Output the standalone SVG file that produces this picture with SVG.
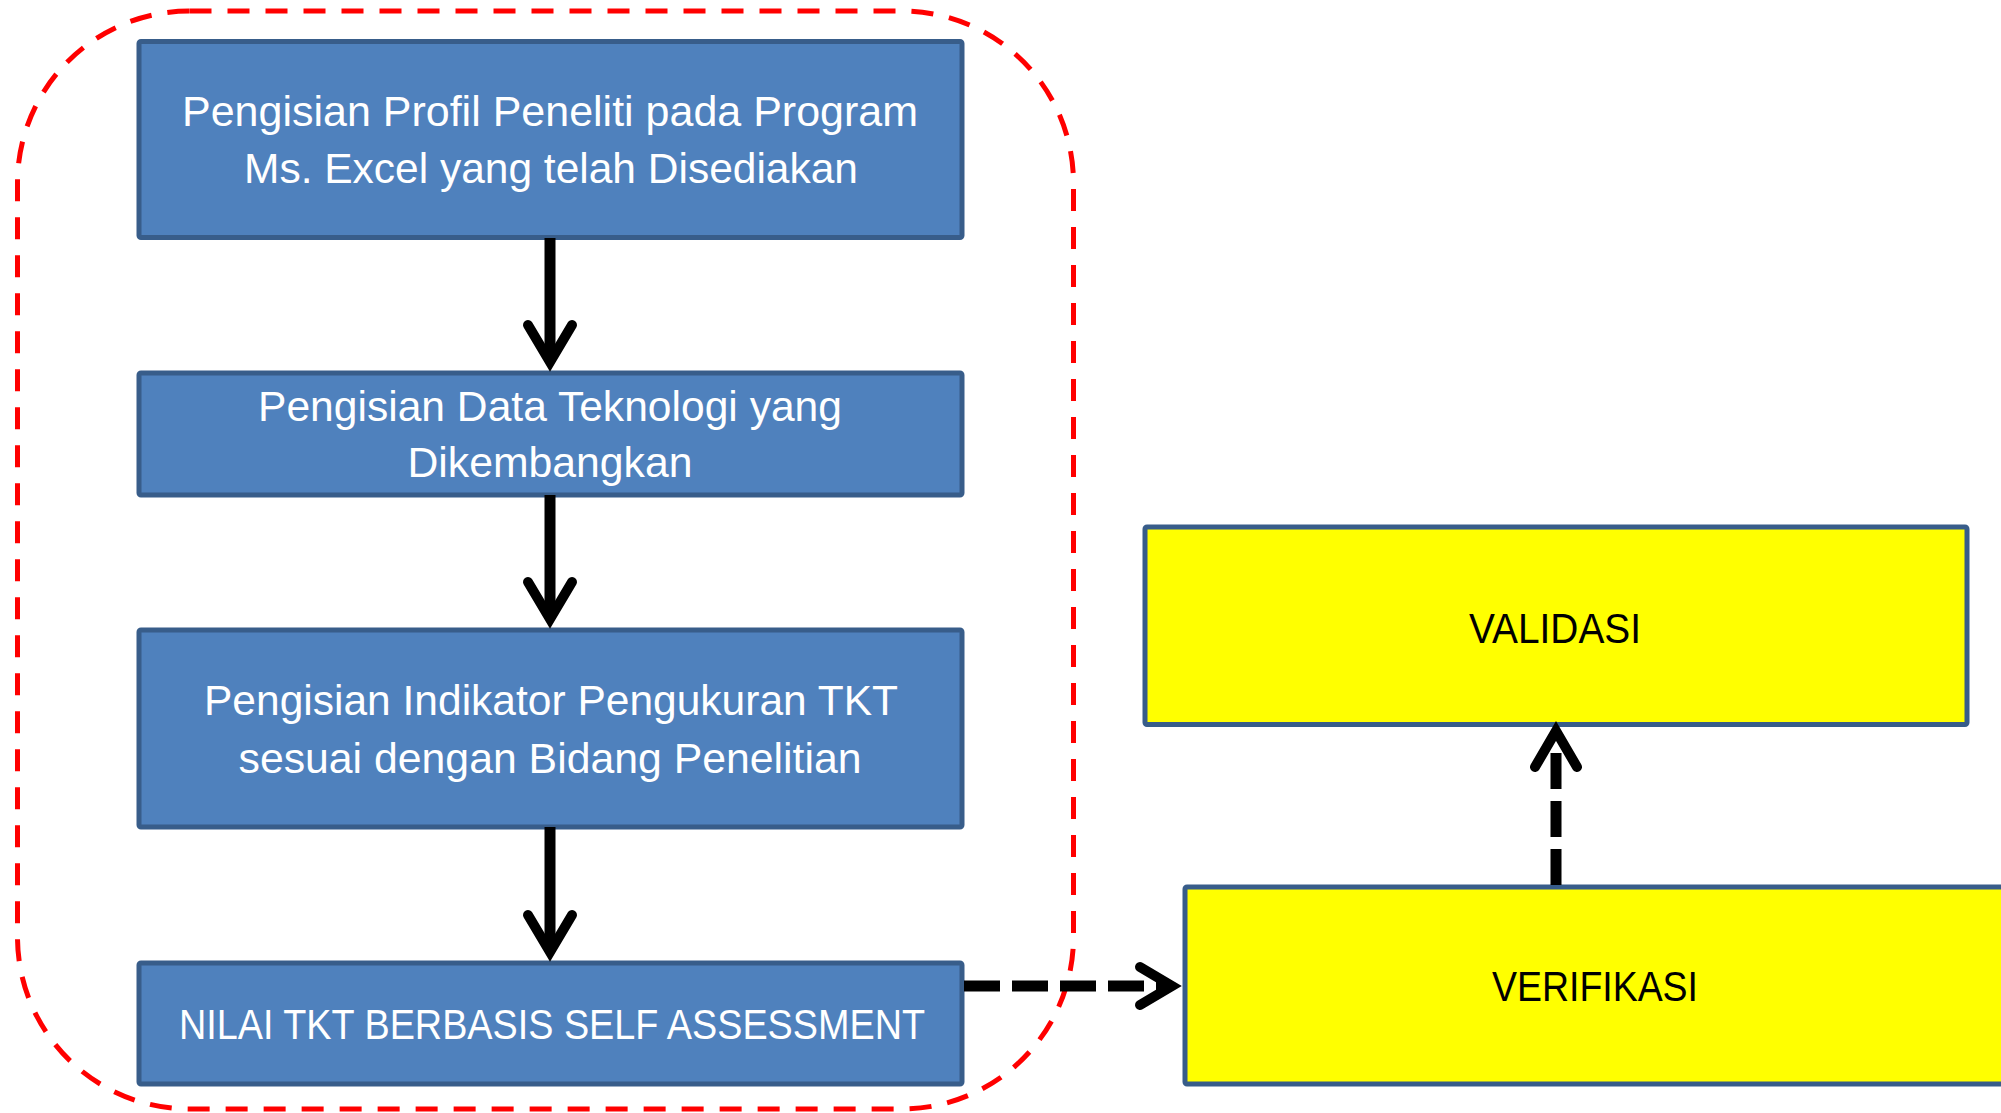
<svg xmlns="http://www.w3.org/2000/svg" width="2001" height="1113" viewBox="0 0 2001 1113">
<style>
.blue{fill:#4F81BD;stroke:#385D8A;stroke-width:5}
.yel{fill:#FFFF00;stroke:#385D8A;stroke-width:5}
.wt{font-family:"Liberation Sans",Arial,sans-serif;font-size:42px;fill:#FFFFFF;text-anchor:middle}
.bt{font-family:"Liberation Sans",Arial,sans-serif;font-size:42px;fill:#000000;text-anchor:middle}
.shaft{stroke:#000;stroke-width:11;fill:none}
.dshaft{stroke:#000;stroke-width:11;fill:none;stroke-dasharray:36 12}
.head{stroke:#000;stroke-width:10;fill:none;stroke-linecap:round;stroke-linejoin:miter;stroke-miterlimit:10}
</style>
<rect width="2001" height="1113" fill="#FFFFFF"/>
<g id="group-boundary">
<rect x="17.5" y="11" width="1056" height="1098" rx="172" ry="172" fill="none" stroke="#FF0000" stroke-width="5" stroke-dasharray="22 16"/>
</g>
<g id="node-profil">
<rect class="blue" x="139" y="41.5" width="823" height="196" rx="2"/>
<text class="wt" x="550" y="126" textLength="736" lengthAdjust="spacingAndGlyphs">Pengisian Profil Peneliti pada Program</text>
<text class="wt" x="551" y="183" textLength="614" lengthAdjust="spacingAndGlyphs">Ms. Excel yang telah Disediakan</text>
</g>
<g id="node-teknologi">
<rect class="blue" x="139" y="373" width="823" height="122" rx="2"/>
<text class="wt" x="550" y="421" textLength="584" lengthAdjust="spacingAndGlyphs">Pengisian Data Teknologi yang</text>
<text class="wt" x="550" y="477" textLength="285" lengthAdjust="spacingAndGlyphs">Dikembangkan</text>
</g>
<g id="node-indikator">
<rect class="blue" x="139" y="630" width="823" height="197" rx="2"/>
<text class="wt" x="551" y="715" textLength="694" lengthAdjust="spacingAndGlyphs">Pengisian Indikator Pengukuran TKT</text>
<text class="wt" x="550" y="773" textLength="623" lengthAdjust="spacingAndGlyphs">sesuai dengan Bidang Penelitian</text>
</g>
<g id="node-nilai">
<rect class="blue" x="139" y="963" width="823" height="121" rx="2"/>
<text class="wt" x="552" y="1039" textLength="746" lengthAdjust="spacingAndGlyphs">NILAI TKT BERBASIS SELF ASSESSMENT</text>
</g>
<g id="node-validasi">
<rect class="yel" x="1145" y="527" width="822" height="197.5" rx="2"/>
<text class="bt" x="1555" y="643" textLength="172" lengthAdjust="spacingAndGlyphs">VALIDASI</text>
</g>
<g id="node-verifikasi">
<rect class="yel" x="1185" y="887" width="900" height="197" rx="2"/>
<text class="bt" x="1595" y="1001" textLength="206" lengthAdjust="spacingAndGlyphs">VERIFIKASI</text>
</g>
<g id="connectors">
<line class="shaft" x1="550" y1="238" x2="550" y2="362"/>
<path class="head" d="M528 325 L550 362 L572 325"/>
<line class="shaft" x1="550" y1="495" x2="550" y2="619"/>
<path class="head" d="M528 582 L550 619 L572 582"/>
<line class="shaft" x1="550" y1="827" x2="550" y2="952"/>
<path class="head" d="M528 915 L550 952 L572 915"/>
<line class="dshaft" x1="964" y1="986" x2="1172" y2="986"/>
<path class="head" d="M1140 967 L1172 986 L1140 1005"/>
<line class="dshaft" x1="1556" y1="885" x2="1556" y2="731"/>
<path class="head" d="M1535 767 L1556 731 L1577 767"/>
</g>
</svg>
